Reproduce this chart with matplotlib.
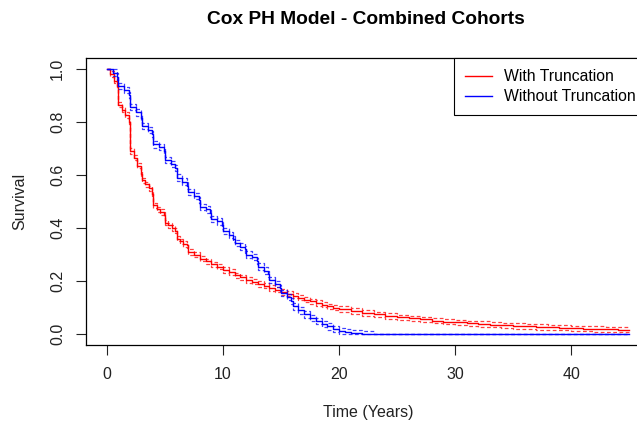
import matplotlib
matplotlib.use("Agg")
import matplotlib.pyplot as plt
import numpy as np

plt.rcParams['font.family'] = ['Liberation Sans', 'DejaVu Sans']

# ---- data ----
red_times = [0, 0.3, 0.6, 0.9, 1.0, 1.3, 1.6, 1.9, 2.0, 2.3, 2.6, 2.9, 3.0, 3.3, 3.6, 3.9,
             4.0, 4.3, 4.6, 4.9, 5.0, 5.3, 5.6, 5.9, 6.0, 6.3, 6.6, 6.9, 7.0, 7.5, 8.0, 8.5,
             9.0, 9.5, 10, 10.5, 11, 11.5, 12, 12.5, 13, 13.5, 14, 14.5, 15, 15.5, 16, 16.5,
             17, 17.5, 18, 18.5, 19, 19.5, 20, 21, 22, 23, 24, 25, 26, 27, 28, 29, 30, 31,
             32, 33, 34, 35, 36, 37, 38, 39, 40, 41, 42, 43, 44, 45]
red_surv = [1.00, 0.98, 0.955, 0.935, 0.865, 0.845, 0.825, 0.80, 0.69, 0.665, 0.635, 0.605,
            0.58, 0.565, 0.55, 0.53, 0.485, 0.47, 0.46, 0.45, 0.42, 0.41, 0.40, 0.39, 0.36,
            0.35, 0.34, 0.335, 0.31, 0.30, 0.285, 0.275, 0.263, 0.255, 0.242, 0.235, 0.222,
            0.215, 0.205, 0.198, 0.19, 0.183, 0.175, 0.168, 0.16, 0.153, 0.145, 0.138, 0.13,
            0.124, 0.118, 0.112, 0.106, 0.101, 0.096, 0.088, 0.081, 0.075, 0.069, 0.064, 0.06,
            0.056, 0.052, 0.048, 0.045, 0.042, 0.039, 0.037, 0.034, 0.032, 0.030, 0.028,
            0.026, 0.025, 0.023, 0.022, 0.020, 0.019, 0.018, 0.016]
red_ci_half = 0.010

blue_times = [0, 0.5, 0.9, 1.0, 1.5, 1.9, 2.0, 2.5, 2.9, 3.0, 3.5, 3.9, 4.0, 4.5, 4.9, 5.0,
              5.5, 5.9, 6.0, 6.5, 6.9, 7.0, 7.5, 7.9, 8.0, 8.5, 8.9, 9.0, 9.5, 9.9, 10, 10.5,
              10.9, 11, 11.5, 11.9, 12, 12.5, 12.9, 13, 13.5, 13.9, 14, 14.5, 14.9, 15, 15.5,
              15.9, 16, 16.5, 17, 17.5, 18, 18.5, 19, 19.5, 20, 20.5, 21, 22, 23, 45]
blue_surv = [1.0, 0.985, 0.97, 0.935, 0.92, 0.90, 0.855, 0.835, 0.815, 0.785, 0.77, 0.755,
             0.715, 0.705, 0.69, 0.655, 0.64, 0.625, 0.59, 0.575, 0.56, 0.535, 0.52, 0.505,
             0.48, 0.47, 0.455, 0.435, 0.425, 0.41, 0.39, 0.375, 0.36, 0.345, 0.33, 0.32,
             0.30, 0.29, 0.275, 0.255, 0.24, 0.228, 0.205, 0.19, 0.175, 0.155, 0.14, 0.125,
             0.105, 0.09, 0.075, 0.062, 0.05, 0.04, 0.03, 0.02, 0.012, 0.008, 0.005, 0.002,
             0.0, 0.0]
blue_ci_half = 0.012

x_ticks = [0, 10, 20, 30, 40]
y_ticks = [0.0, 0.2, 0.4, 0.6, 0.8, 1.0]
y_tick_labels = ["0.0", "0.2", "0.4", "0.6", "0.8", "1.0"]

series_labels = ["With Truncation", "Without Truncation"]
colors = ["#ff0000", "#0000ff"]

# ---- figure ----
W, H = 637, 425
fig = plt.figure(figsize=(W / 100, H / 100), dpi=100)
L, R, T, B = 86, 650, 58, 345
ax = fig.add_axes([L / W, 1 - B / H, (R - L) / W, (B - T) / H])

def ci(vals, hw):
    v = np.array(vals)
    lo = np.clip(v - hw, 0, 1)
    hi = np.clip(v + hw, 0, 1)
    hi[v <= 0] = 0
    lo[v >= 0.999] = v[v >= 0.999]
    return lo, hi

for tms, sv, hw, c, lab in [(red_times, red_surv, red_ci_half, colors[0], series_labels[0]),
                            (blue_times, blue_surv, blue_ci_half, colors[1], series_labels[1])]:
    lo, hi = ci(sv, hw)
    ax.plot(tms, lo, drawstyle='steps-post', color=c, lw=0.9, ls=(0, (3, 2)), alpha=0.75)
    ax.plot(tms, hi, drawstyle='steps-post', color=c, lw=0.9, ls=(0, (3, 2)), alpha=0.75)
    ax.plot(tms, sv, drawstyle='steps-post', color=c, lw=1.0, label=lab)

ax.set_xlim(-1.8, 46.8)
ax.set_ylim(-0.04, 1.04)
ax.set_xticks(x_ticks)
ax.set_xticklabels([str(t) for t in x_ticks])
ax.set_yticks(y_ticks)
ax.set_yticklabels(y_tick_labels, rotation=90, va='center')
ax.tick_params(direction='out', length=7, width=0.8, labelsize=11.5, colors='#222222')
ax.tick_params(axis='x', pad=9)
ax.tick_params(axis='y', pad=8)
for s in ax.spines.values():
    s.set_linewidth(0.9)
    s.set_color('black')

fig.text((L + R) / 2 / W, 1 - 412 / H, "Time (Years)", ha='center', va='center',
         fontsize=11.5, color='#222222')
fig.text(20 / W, 1 - 201 / H, "Survival", ha='center', va='center', rotation=90,
         fontsize=11.5, color='#222222')
fig.text(366 / W, 1 - 19 / H, "Cox PH Model - Combined Cohorts",
         ha='center', va='center', fontsize=13.8, fontweight='bold')

x_leg = (-1.8 + (454 - L) / (R - L) * 48.6)
leg = ax.legend(loc='upper left', bbox_to_anchor=(x_leg, 1.04), bbox_transform=ax.transData,
                borderaxespad=0, fancybox=False, framealpha=1,
                edgecolor='black', fontsize=11.3, handlelength=1.7, handletextpad=0.75,
                borderpad=0.72, labelspacing=0.3)
leg.get_frame().set_linewidth(0.8)

fig.savefig("out.png", dpi=100)
